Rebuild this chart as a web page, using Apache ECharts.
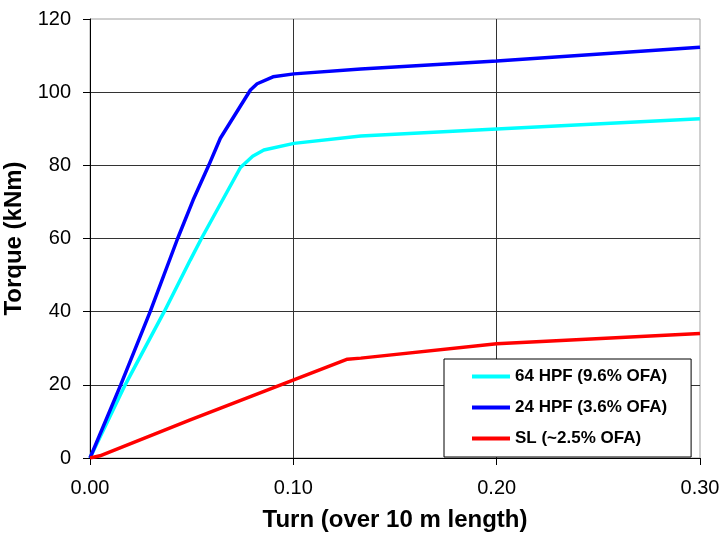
<!DOCTYPE html>
<html>
<head>
<meta charset="utf-8">
<script src="https://cdn.jsdelivr.net/npm/echarts@6/dist/echarts.min.js"></script>
<style>html,body{margin:0;padding:0;background:#fff}#c{width:720px;height:538px}</style>
</head>
<body>
<div id="c"></div>
<script>
const seriesNames = ['64 HPF (9.6% OFA)', '24 HPF (3.6% OFA)', 'SL (~2.5% OFA)'];
const xTicks = [0, 0.1, 0.2, 0.3];
const yTicks = [0, 20, 40, 60, 80, 100, 120];

const hpf64Turn   = [0, 0.0173, 0.0365, 0.0493, 0.0548, 0.0740, 0.0800, 0.0855, 0.1003, 0.1332, 0.2000, 0.3000];
const hpf64Torque = [0, 20, 40, 54.1, 60, 79.4, 82.5, 84.2, 86.0, 88.0, 89.9, 92.7];

const hpf24Turn   = [0, 0.0151, 0.0296, 0.0431, 0.0507, 0.0584, 0.0641, 0.0789, 0.0822, 0.0900, 0.1003, 0.1332, 0.2000, 0.3000];
const hpf24Torque = [0, 20, 40, 60, 70.5, 80, 87.4, 100.6, 102.3, 104.2, 105.0, 106.3, 108.5, 112.3];

const slTurn   = [0, 0.0049, 0.0493, 0.1266, 0.1332, 0.2000, 0.3000];
const slTorque = [0, 0.6, 10.4, 27.0, 27.3, 31.2, 34.0];

function pairs(xs, ys) { return xs.map((x, i) => [x, ys[i]]); }

const colors = ['#00FFFF', '#0000FF', '#FF0000'];
const seriesData = [pairs(hpf64Turn, hpf64Torque), pairs(hpf24Turn, hpf24Torque), pairs(slTurn, slTorque)];

const chart = echarts.init(document.getElementById('c'), null, {renderer: 'canvas'});
const font = 'Liberation Sans, Arial, sans-serif';
chart.setOption({
  animation: false,
  backgroundColor: '#fff',
  grid: {left: 90, top: 19, width: 610, height: 439, containLabel: false, outerBoundsMode: 'none',
         show: true, borderColor: '#a0a0a0', borderWidth: 1, backgroundColor: 'transparent'},
  xAxis: {
    type: 'value', min: xTicks[0], max: xTicks[xTicks.length - 1], interval: 0.1,
    name: 'Turn (over 10 m length)', nameLocation: 'middle', nameGap: 50,
    nameTextStyle: {fontFamily: font, fontSize: 24, fontWeight: 'bold', color: '#000'},
    axisLine: {show: true, lineStyle: {color: '#000', width: 1}},
    axisTick: {show: true, inside: false, length: 7, lineStyle: {color: '#000'}},
    axisLabel: {margin: 20, fontFamily: font, fontSize: 20, color: '#000', formatter: v => v.toFixed(2)},
    splitLine: {show: true, showMinLine: false, showMaxLine: false, lineStyle: {color: '#333', width: 1}}
  },
  yAxis: {
    type: 'value', min: yTicks[0], max: yTicks[yTicks.length - 1], interval: 20,
    name: 'Torque (kNm)', nameLocation: 'middle', nameGap: 54, nameRotate: 90,
    nameTextStyle: {fontFamily: font, fontSize: 24, fontWeight: 'bold', color: '#000'},
    axisLine: {show: true, lineStyle: {color: '#000', width: 1}},
    axisTick: {show: true, inside: false, length: 7, lineStyle: {color: '#000'}},
    axisLabel: {margin: 19, fontFamily: font, fontSize: 20, color: '#000'},
    splitLine: {show: true, showMinLine: false, showMaxLine: false, lineStyle: {color: '#333', width: 1}}
  },
  legend: {
    orient: 'vertical', left: 444, top: 359,
    padding: [9, 24, 10, 28], itemGap: 14,
    itemWidth: 38, itemHeight: 4, icon: 'rect',
    borderColor: '#000', borderWidth: 1, backgroundColor: '#fff',
    textStyle: {fontFamily: font, fontSize: 17, fontWeight: 'bold', color: '#000', lineHeight: 17},
    data: seriesNames
  },
  series: seriesNames.map((n, i) => ({
    name: n, type: 'line', data: seriesData[i], showSymbol: false, symbol: 'none',
    lineStyle: {color: colors[i], width: 3.5}, itemStyle: {color: colors[i]}, z: 3 + i
  }))
});
</script>
</body>
</html>
